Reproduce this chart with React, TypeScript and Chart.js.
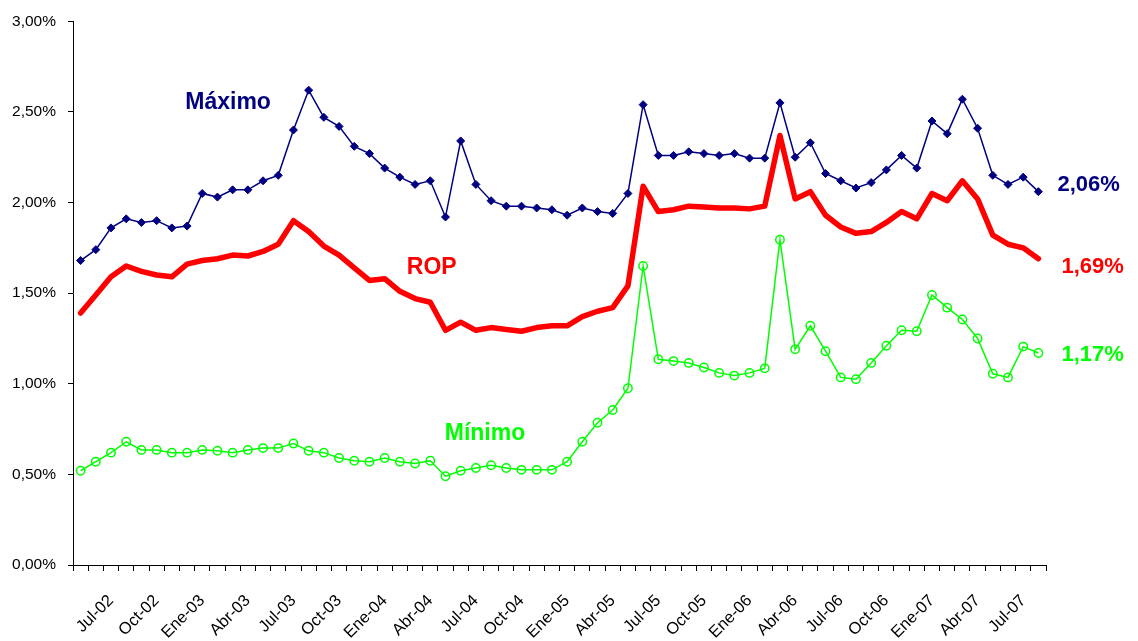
import React, { useEffect, useRef } from "react";
import { Chart, registerables } from "chart.js";

Chart.register(...registerables);

// Monthly categories, May-02 .. Ago-07
const MONTHS = [
  "May-02", "Jun-02", "Jul-02", "Ago-02", "Sep-02", "Oct-02", "Nov-02", "Dic-02",
  "Ene-03", "Feb-03", "Mar-03", "Abr-03", "May-03", "Jun-03", "Jul-03", "Ago-03", "Sep-03", "Oct-03", "Nov-03", "Dic-03",
  "Ene-04", "Feb-04", "Mar-04", "Abr-04", "May-04", "Jun-04", "Jul-04", "Ago-04", "Sep-04", "Oct-04", "Nov-04", "Dic-04",
  "Ene-05", "Feb-05", "Mar-05", "Abr-05", "May-05", "Jun-05", "Jul-05", "Ago-05", "Sep-05", "Oct-05", "Nov-05", "Dic-05",
  "Ene-06", "Feb-06", "Mar-06", "Abr-06", "May-06", "Jun-06", "Jul-06", "Ago-06", "Sep-06", "Oct-06", "Nov-06", "Dic-06",
  "Ene-07", "Feb-07", "Mar-07", "Abr-07", "May-07", "Jun-07", "Jul-07", "Ago-07",
];

// Rates in percent
const MAXIMO = [
  1.68, 1.74, 1.86, 1.91, 1.89, 1.90, 1.86, 1.87, 2.05, 2.03, 2.07, 2.07, 2.12, 2.15, 2.40, 2.62,
  2.47, 2.42, 2.31, 2.27, 2.19, 2.14, 2.10, 2.12, 1.92, 2.34, 2.10, 2.01, 1.98, 1.98, 1.97, 1.96,
  1.93, 1.97, 1.95, 1.94, 2.05, 2.54, 2.26, 2.26, 2.28, 2.27, 2.26, 2.27, 2.245, 2.245, 2.55, 2.25,
  2.33, 2.16, 2.12, 2.08, 2.11, 2.18, 2.26, 2.19, 2.45, 2.38, 2.57, 2.41, 2.15, 2.10, 2.14, 2.06,
];

const ROP = [
  1.39, 1.49, 1.59, 1.65, 1.62, 1.60, 1.59, 1.66, 1.68, 1.69, 1.71, 1.705, 1.73, 1.77, 1.90, 1.84,
  1.76, 1.71, 1.64, 1.57, 1.58, 1.51, 1.47, 1.45, 1.295, 1.34, 1.295, 1.31, 1.30, 1.29, 1.31, 1.32,
  1.32, 1.37, 1.40, 1.42, 1.54, 2.09, 1.95, 1.96, 1.98, 1.975, 1.97, 1.97, 1.965, 1.98, 2.37, 2.02,
  2.06, 1.93, 1.865, 1.83, 1.84, 1.89, 1.95, 1.91, 2.05, 2.01, 2.12, 2.02, 1.82, 1.77, 1.75, 1.69,
];

const MINIMO = [
  0.52, 0.57, 0.62, 0.68, 0.635, 0.635, 0.62, 0.62, 0.635, 0.63, 0.62, 0.635, 0.645, 0.645, 0.67, 0.63,
  0.62, 0.59, 0.575, 0.57, 0.59, 0.57, 0.56, 0.575, 0.49, 0.52, 0.535, 0.55, 0.535, 0.525, 0.525, 0.525,
  0.57, 0.68, 0.785, 0.855, 0.975, 1.65, 1.135, 1.125, 1.115, 1.09, 1.06, 1.045, 1.06, 1.085, 1.795, 1.19,
  1.32, 1.18, 1.035, 1.025, 1.115, 1.21, 1.295, 1.29, 1.49, 1.42, 1.355, 1.25, 1.055, 1.035, 1.205, 1.17,
];

const Y_TICKS = [0, 0.5, 1, 1.5, 2, 2.5, 3];

const NAVY = "#000080";
const RED = "#FF0000";
const GREEN = "#00FF00";

// Series names placed in data space (category index, value)
const SERIES_NAMES = [
  { text: "Máximo", color: NAVY, index: 9.7, value: 2.55 },
  { text: "ROP", color: RED, index: 23.1, value: 1.64 },
  { text: "Mínimo", color: GREEN, index: 26.6, value: 0.725 },
];

const fmtPct = (v: number) => v.toFixed(2).replace(".", ",") + "%";

// Series names and last-value labels at the right end of each series
const endLabelsPlugin = {
  id: "endLabels",
  afterDatasetsDraw(chart: any) {
    const { ctx, scales } = chart;
    const xs = scales.x;
    const ys = scales.y;
    ctx.save();
    ctx.font = "bold 23px 'Liberation Sans', Arial, sans-serif";
    ctx.textBaseline = "middle";

    ctx.textAlign = "center";
    SERIES_NAMES.forEach((n) => {
      ctx.fillStyle = n.color;
      ctx.fillText(n.text, xs.getPixelForValue(n.index), ys.getPixelForValue(n.value));
    });

    ctx.font = "bold 22px 'Liberation Sans', Arial, sans-serif";
    ctx.textAlign = "left";
    const shifts = [-7, 8, 2];
    chart.data.datasets.forEach((ds: any, i: number) => {
      const last = ds.data.length - 1;
      const v = ds.data[last];
      const x = xs.getPixelForValue(last) + 19;
      const y = ys.getPixelForValue(v) + shifts[i];
      ctx.fillStyle = ds.borderColor;
      ctx.fillText(fmtPct(v), i === 0 ? x : x + 4, y);
    });
    ctx.restore();
  },
};

export default function App() {
  const canvasRef = useRef<HTMLCanvasElement | null>(null);

  useEffect(() => {
    if (!canvasRef.current) return;
    const family = "'Liberation Sans', Arial, sans-serif";
    const chart = new Chart(canvasRef.current, {
      type: "line",
      data: {
        labels: MONTHS,
        datasets: [
          {
            label: "Máximo",
            data: MAXIMO,
            borderColor: NAVY,
            backgroundColor: NAVY,
            borderWidth: 1.5,
            pointStyle: "rectRot",
            pointRadius: 4,
            pointBorderWidth: 1,
            pointBackgroundColor: NAVY,
            pointBorderColor: NAVY,
            tension: 0,
          },
          {
            label: "ROP",
            data: ROP,
            borderColor: RED,
            backgroundColor: RED,
            borderWidth: 5.5,
            pointRadius: 0,
            borderJoinStyle: "round",
            borderCapStyle: "round",
            tension: 0,
          },
          {
            label: "Mínimo",
            data: MINIMO,
            borderColor: GREEN,
            backgroundColor: "rgba(0,0,0,0)",
            borderWidth: 1.5,
            pointStyle: "circle",
            pointRadius: 4.2,
            pointBorderWidth: 1.5,
            pointBackgroundColor: "rgba(255,255,255,0)",
            pointBorderColor: GREEN,
            tension: 0,
          },
        ],
      },
      options: {
        animation: false,
        responsive: false,
        layout: { padding: { top: 19, right: 92, left: 0, bottom: 0 } },
        plugins: {
          legend: { display: false },
          tooltip: { enabled: false },
        },
        scales: {
          x: {
            type: "category",
            offset: true,
            grid: {
              offset: true,
              drawOnChartArea: false,
              drawTicks: true,
              tickLength: 6,
              color: "#000",
            },
            border: { display: true, color: "#000", width: 1 },
            ticks: {
              autoSkip: false,
              minRotation: 45,
              maxRotation: 45,
              padding: 20,
              color: "#000",
              font: { family, size: 16.5 },
              callback: (_v: any, i: number) => (i % 3 === 2 ? MONTHS[i] : ""),
            },
            afterFit: (s: any) => {
              s.height = 76;
            },
          },
          y: {
            min: 0,
            max: 3,
            afterBuildTicks: (s: any) => {
              s.ticks = Y_TICKS.map((v) => ({ value: v }));
            },
            grid: {
              drawOnChartArea: false,
              drawTicks: true,
              tickLength: 5,
              color: "#000",
            },
            border: { display: true, color: "#000", width: 1 },
            ticks: {
              padding: 12,
              color: "#000",
              font: { family, size: 15.5 },
              callback: (v: any) => fmtPct(Number(v)),
            },
            afterFit: (s: any) => {
              s.width = 73;
            },
          },
        },
      },
      plugins: [endLabelsPlugin],
    });
    return () => chart.destroy();
  }, []);

  return (
    <div style={{ position: "fixed", left: 0, top: 0, width: 1138, height: 641, background: "#fff" }}>
      <canvas ref={canvasRef} width={1138} height={641} />
    </div>
  );
}
